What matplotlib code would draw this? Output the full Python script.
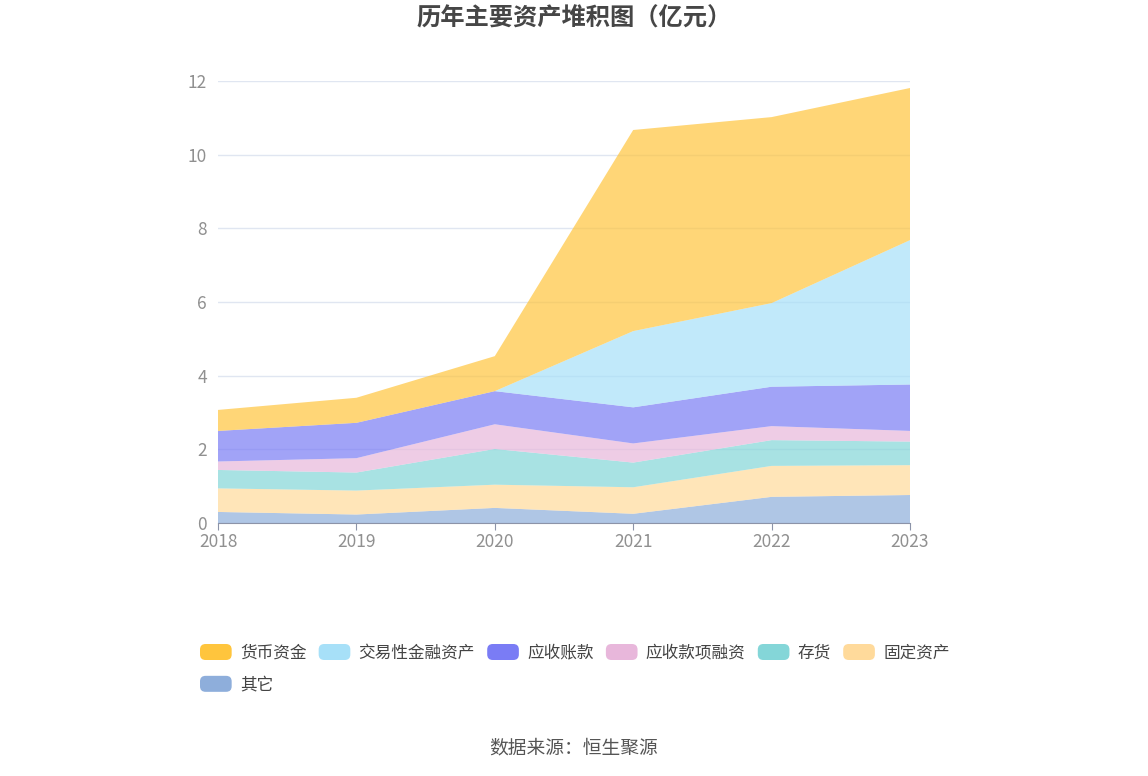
import matplotlib
matplotlib.use("Agg")
import matplotlib.pyplot as plt
from matplotlib.patches import FancyBboxPatch
from matplotlib.legend_handler import HandlerPatch
import matplotlib.patches as mpatches

plt.rcParams['font.family'] = ['Noto Sans CJK SC', 'DejaVu Sans']

years = [2018, 2019, 2020, 2021, 2022, 2023]
# 各项资产（亿元），从下往上堆叠
qita = [0.30, 0.23, 0.41, 0.25, 0.71, 0.76]
guding = [0.64, 0.65, 0.63, 0.72, 0.84, 0.81]
cunhuo = [0.50, 0.49, 0.97, 0.67, 0.70, 0.64]
yingshou_rz = [0.23, 0.39, 0.67, 0.52, 0.38, 0.29]
yingshou = [0.83, 0.96, 0.90, 0.98, 1.07, 1.26]
jiaoyi = [0.0, 0.0, 0.0, 2.07, 2.27, 3.92]
huobi = [0.57, 0.68, 0.95, 5.46, 5.05, 4.13]

names = ['货币资金', '交易性金融资产', '应收账款', '应收款项融资', '存货', '固定资产', '其它']
colors = ['#FFC53D', '#A7E0F8', '#7A7CF5', '#E8B7DB', '#84D6D8', '#FFDA9B', '#8EAEDB']

fig = plt.figure(figsize=(11.48, 7.76), dpi=100)
ax = fig.add_axes([218 / 1148, 1 - 523 / 776, 692 / 1148, 442 / 776])

stack = [qita, guding, cunhuo, yingshou_rz, yingshou, jiaoyi, huobi]
stack_colors = colors[::-1]
ax.stackplot(years, *stack, colors=stack_colors, alpha=0.7, linewidth=0)

ax.set_xlim(2018, 2023)
ax.set_ylim(0, 12)
ax.set_yticks([0, 2, 4, 6, 8, 10, 12])
ax.set_xticks(years)
ax.grid(axis='y', color='#E0E6F1', linewidth=1)
ax.set_axisbelow(True)
for s in ['left', 'right', 'top']:
    ax.spines[s].set_visible(False)
ax.spines['bottom'].set_color('#8C93A8')
ax.tick_params(axis='y', length=0, labelsize=12.5, labelcolor='#909090', pad=8)
ax.tick_params(axis='x', length=5, color='#8C93A8', labelsize=12.5, labelcolor='#909090', pad=2)

fig.text(0.5, 1 - 19 / 776, '历年主要资产堆积图（亿元）', ha='center', va='center',
         fontsize=17.5, fontweight='bold', color='#464646')


class RoundHandler(HandlerPatch):
    def create_artists(self, legend, orig_handle, xdescent, ydescent, width, height, fontsize, trans):
        p = FancyBboxPatch((-xdescent, -ydescent), width, height,
                           boxstyle='round,pad=0,rounding_size=4',
                           facecolor=orig_handle.get_facecolor(), edgecolor='none', transform=trans)
        return [p]


# 图例按行排列：第一列放两个
order = [0, 6, 1, 2, 3, 4, 5]
handles = [mpatches.Patch(facecolor=colors[i]) for i in order]
labels = [names[i] for i in order]
fig.legend(handles, labels, loc='upper left', bbox_to_anchor=(200 / 1148, 1 - 644 / 776),
           ncol=6, frameon=False, fontsize=12, labelcolor='#444444',
           handler_map={mpatches.Patch: RoundHandler()}, borderpad=0, borderaxespad=0,
           handlelength=1.9, handleheight=1.1, handletextpad=0.5, columnspacing=0.73,
           labelspacing=0.85)

fig.text(0.5, 1 - 748 / 776, '数据来源：恒生聚源', ha='center', va='center',
         fontsize=13.5, color='#555555')

fig.savefig('out.png', dpi=100)
